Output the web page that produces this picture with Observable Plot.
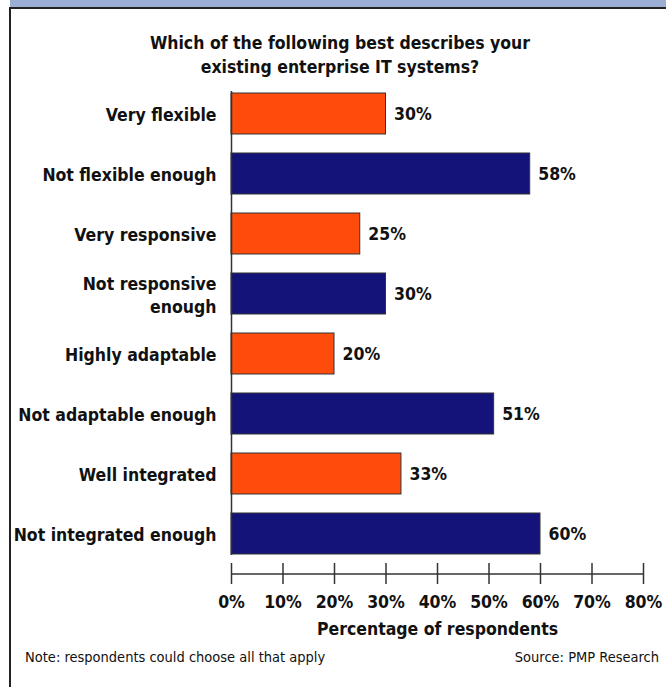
<!DOCTYPE html>
<html>
<head>
<meta charset="utf-8">
<script src="https://cdn.jsdelivr.net/npm/d3@7"></script>
<script src="https://cdn.jsdelivr.net/npm/@observablehq/plot@0.6"></script>
<style>
  html, body { margin: 0; padding: 0; background: #fff; }
  #wrap { position: relative; width: 666px; height: 687px; overflow: hidden;
    font-family: "DejaVu Sans Condensed", "DejaVu Sans", sans-serif; font-stretch: condensed; color: #111; }
  #strip { position: absolute; left: 10px; top: 0; width: 656px; height: 7px; background: #9aaed6; border-bottom: 2px solid #222; }
  #lborder { position: absolute; left: 9px; top: 7px; width: 2px; height: 680px; background: #222; }
  #title { position: absolute; left: 0; width: 680px; top: 31px; text-align: center; font-weight: bold; font-size: 17.5px; line-height: 24px; }
  #note { position: absolute; left: 25px; top: 649px; font-size: 14.5px; }
  #source { position: absolute; right: 7px; top: 649px; font-size: 14.5px; }
  .plot { position: absolute; left: 0; }
</style>
</head>
<body>
<div id="wrap">
  <div id="strip"></div>
  <div id="lborder"></div>
  <div id="title">Which of the following best describes your<br>existing enterprise IT systems?</div>
  <div id="main" class="plot" style="top:0"></div>
  <div id="axis" class="plot" style="top:555px"></div>
  <div id="note">Note: respondents could choose all that apply</div>
  <div id="source">Source: PMP Research</div>
</div>
<script>
const categories = ["Very flexible", "Not flexible enough", "Very responsive", "Not responsive\nenough",
  "Highly adaptable", "Not adaptable enough", "Well integrated", "Not integrated enough"];
const values = [30, 58, 25, 30, 20, 51, 33, 60];
const groups = ["positive", "negative", "positive", "negative", "positive", "negative", "positive", "negative"];
const xTicks = [0, 10, 20, 30, 40, 50, 60, 70, 80];
const axisTitle = "Percentage of respondents";

const data = categories.map((c, i) => ({category: c, value: values[i], group: groups[i]}));
const font = "\"DejaVu Sans Condensed\", \"DejaVu Sans\", sans-serif";

const main = Plot.plot({
  width: 666,
  height: 570,
  marginTop: 91,
  marginBottom: 15,
  marginLeft: 231,
  marginRight: 23,
  style: {fontFamily: font, fontSize: "17px", fontWeight: "bold", color: "#111", background: "transparent", overflow: "visible"},
  x: {domain: [0, 80], axis: null},
  y: {domain: categories, paddingInner: 0.32, paddingOuter: 0, label: null},
  color: {domain: ["positive", "negative"], range: ["#ff4c0c", "#14137a"]},
  marks: [
    Plot.barX(data, {x: "value", y: "category", fill: "group", stroke: "#333", strokeWidth: 1}),
    Plot.ruleX([0], {stroke: "#333", strokeWidth: 1.5}),
    Plot.text(data, {x: "value", y: "category", text: d => d.value + "%", dx: 8, textAnchor: "start", fill: "#111", fontSize: 17.5, fontWeight: "bold"}),
    Plot.axisY({tickSize: 0, tickPadding: 15, fontSize: 17.5, fontWeight: "bold", lineHeight: 1.32, label: null})
  ]
});
document.getElementById("main").appendChild(main);

const axis = Plot.plot({
  width: 666,
  height: 90,
  marginTop: 8,
  marginBottom: 61,
  marginLeft: 231,
  marginRight: 23,
  style: {fontFamily: font, fontSize: "17px", fontWeight: "bold", color: "#111", background: "transparent", overflow: "visible"},
  x: {domain: [0, 80]},
  y: {domain: [-1, 1], axis: null},
  marks: [
    Plot.ruleY([0], {x1: 0, x2: 80, stroke: "#333", strokeWidth: 1.5}),
    Plot.ruleX(xTicks, {x: d => d, stroke: "#333", strokeWidth: 1.5}),
    Plot.axisX(xTicks, {tickSize: 0, tickPadding: 11, tickFormat: d => d + "%", fontSize: 17.5, fontWeight: "bold", label: null}),
    Plot.text([axisTitle], {frameAnchor: "bottom", dy: 50, fontSize: 17.5, fontWeight: "bold", fill: "#111"})
  ]
});
document.getElementById("axis").appendChild(axis);
</script>
</body>
</html>
